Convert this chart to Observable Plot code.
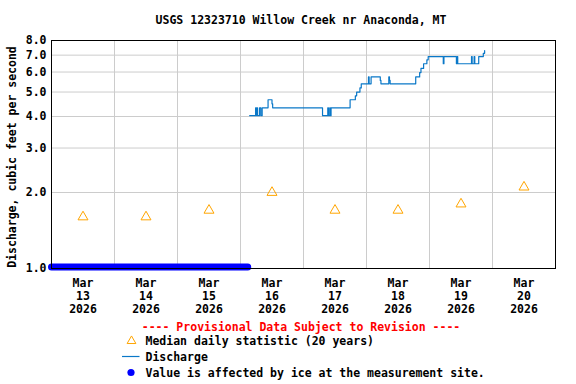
<!DOCTYPE html>
<html>
<head>
<meta charset="utf-8">
<script src="https://cdn.jsdelivr.net/npm/d3@7"></script>
<script src="https://cdn.jsdelivr.net/npm/@observablehq/plot@0.6"></script>
<style>
  html, body { margin: 0; padding: 0; background: white; }
  #chart { width: 576px; height: 384px; }
</style>
</head>
<body>
<div id="chart"></div>
<script>
// ---- data ----
const titleText = "USGS 12323710 Willow Creek nr Anaconda, MT";
const yLabel = "Discharge, cubic feet per second";
const yTicks = [1, 2, 3, 4, 5, 6, 7, 8];
const dayNoons = ["2026-03-13T12:00Z", "2026-03-14T12:00Z", "2026-03-15T12:00Z", "2026-03-16T12:00Z",
                  "2026-03-17T12:00Z", "2026-03-18T12:00Z", "2026-03-19T12:00Z", "2026-03-20T12:00Z"];
const dayLabels = ["Mar\n13\n2026", "Mar\n14\n2026", "Mar\n15\n2026", "Mar\n16\n2026",
                   "Mar\n17\n2026", "Mar\n18\n2026", "Mar\n19\n2026", "Mar\n20\n2026"];
const dayBoundaries = ["2026-03-14T00:00Z", "2026-03-15T00:00Z", "2026-03-16T00:00Z", "2026-03-17T00:00Z",
                       "2026-03-18T00:00Z", "2026-03-19T00:00Z", "2026-03-20T00:00Z"];
const xDomain = ["2026-03-13T00:00Z", "2026-03-21T00:00Z"];

const medianValues = [1.6, 1.6, 1.7, 2.0, 1.7, 1.7, 1.8, 2.1];

const dischargeTimes = [
  "2026-03-16T03:30Z", "2026-03-16T05:45Z", "2026-03-16T06:00Z", "2026-03-16T06:15Z", "2026-03-16T06:30Z",
  "2026-03-16T07:15Z", "2026-03-16T07:45Z", "2026-03-16T08:15Z", "2026-03-16T10:30Z", "2026-03-16T12:00Z",
  "2026-03-16T12:15Z",
  "2026-03-17T07:15Z", "2026-03-17T09:15Z", "2026-03-17T09:30Z", "2026-03-17T10:00Z", "2026-03-17T10:15Z",
  "2026-03-17T10:30Z", "2026-03-17T17:45Z", "2026-03-17T19:45Z", "2026-03-17T20:15Z", "2026-03-17T21:30Z",
  "2026-03-17T22:00Z",
  "2026-03-18T00:45Z", "2026-03-18T01:00Z", "2026-03-18T01:45Z", "2026-03-18T05:15Z", "2026-03-18T05:30Z",
  "2026-03-18T08:30Z", "2026-03-18T08:45Z", "2026-03-18T09:00Z", "2026-03-18T18:45Z", "2026-03-18T20:15Z",
  "2026-03-18T20:45Z", "2026-03-18T21:45Z", "2026-03-18T23:00Z", "2026-03-18T23:30Z",
  "2026-03-19T05:15Z", "2026-03-19T05:30Z", "2026-03-19T10:15Z", "2026-03-19T10:30Z", "2026-03-19T10:45Z",
  "2026-03-19T16:00Z", "2026-03-19T16:15Z", "2026-03-19T17:00Z", "2026-03-19T17:15Z", "2026-03-19T18:45Z",
  "2026-03-19T20:30Z", "2026-03-19T21:00Z"
];
const dischargeValues = [
  4.03, 4.33, 4.03, 4.33, 4.03,
  4.33, 4.03, 4.33, 4.66, 4.49,
  4.33,
  4.03, 4.33, 4.03, 4.33, 4.03,
  4.33, 4.66, 4.83, 5.00, 5.19,
  5.39,
  5.74, 5.39, 5.74, 5.56, 5.39,
  5.74, 5.56, 5.39, 5.74, 5.97,
  6.20, 6.47, 6.71, 6.91,
  6.47, 6.91, 6.47, 6.91, 6.47,
  6.91, 6.47, 6.91, 6.47, 6.91,
  7.12, 7.30
];

const iceTimes = ["2026-03-13T00:00Z", "2026-03-16T02:45Z"];
const iceValues = [1.0, 1.0];

const provisionalText = "---- Provisional Data Subject to Revision ----";
const legendLabels = ["Median daily statistic (20 years)", "Discharge", "Value is affected by ice at the measurement site."];

// ---- styles ----
const FONT = "DejaVu Sans Mono";
const medianColor = "#ffa500";
const dischargeColor = "#0a78c8";
const iceColor = "#0000ff";
const gridColor = "#cccccc";

// ---- build tables ----
const parse = s => new Date(s);
const median = dayNoons.map((d, i) => ({t: parse(d), v: medianValues[i]}));
const discharge = dischargeTimes.map((d, i) => ({t: parse(d), v: dischargeValues[i]}));
const ice = iceTimes.map((d, i) => ({t: parse(d), v: iceValues[i]}));
const labelByTime = new Map(dayNoons.map((d, i) => [+parse(d), dayLabels[i]]));

const chart = Plot.plot({
  width: 576,
  height: 384,
  marginLeft: 51,
  marginRight: 21,
  marginTop: 40,
  marginBottom: 116,
  style: {fontFamily: FONT, fontSize: "11.5px", fontWeight: "bold", background: "white", color: "black"},
  x: {type: "utc", domain: xDomain.map(parse)},
  y: {type: "log", domain: [1, 8]},
  marks: [
    Plot.gridX(dayBoundaries.map(parse), {stroke: gridColor, strokeOpacity: 1, strokeWidth: 1}),
    Plot.gridY(yTicks.slice(1, -1), {stroke: gridColor, strokeOpacity: 1, strokeWidth: 1}),
    Plot.axisY(yTicks, {tickSize: 0, tickPadding: 5, tickFormat: d => d.toFixed(1), label: null}),
    Plot.axisX(dayNoons.map(parse), {tickSize: 0, tickPadding: 10, tickFormat: d => labelByTime.get(+d), label: null, lineHeight: 1.1}),
    Plot.line(discharge, {x: "t", y: "v", curve: "step-after", stroke: dischargeColor, strokeWidth: 1.2}),
    Plot.dot(median, {x: "t", y: "v", symbol: "triangle", r: 3.7, stroke: medianColor, fill: "none", strokeWidth: 1}),
    Plot.line(ice, {x: "t", y: "v", stroke: iceColor, strokeWidth: 7, strokeLinecap: "round", dy: -1.5}),
    Plot.frame({stroke: "black", strokeWidth: 1})
  ]
});

document.getElementById("chart").appendChild(chart);

// ---- title, y label, legend drawn into the same SVG ----
const svg = d3.select(chart);
const txt = (x, y, s, opts = {}) => svg.append("text")
  .attr("x", x).attr("y", y)
  .attr("font-family", FONT).attr("font-size", "11.5px").attr("font-weight", "bold")
  .attr("fill", opts.fill || "black")
  .attr("text-anchor", opts.anchor || "start")
  .text(s);

txt(301, 23.5, titleText, {anchor: "middle"});

svg.append("text")
  .attr("transform", "translate(16,157) rotate(-90)")
  .attr("font-family", FONT).attr("font-size", "11.5px").attr("font-weight", "bold")
  .attr("text-anchor", "middle").attr("fill", "black")
  .text(yLabel);

txt(301, 331, provisionalText, {anchor: "middle", fill: "#ff0000"});

// legend row 1: median triangle
svg.append("path")
  .attr("d", d3.symbol(d3.symbolTriangle2, 55)())
  .attr("transform", "translate(131.5,341)")
  .attr("fill", "none").attr("stroke", medianColor).attr("stroke-width", 1);
txt(145.5, 345, legendLabels[0]);

// legend row 2: discharge line
svg.append("line")
  .attr("x1", 122).attr("x2", 139.5).attr("y1", 356.5).attr("y2", 356.5)
  .attr("stroke", dischargeColor).attr("stroke-width", 1.2);
txt(145.5, 361, legendLabels[1]);

// legend row 3: ice dot
svg.append("circle")
  .attr("cx", 131).attr("cy", 372.5).attr("r", 3.6)
  .attr("fill", iceColor);
txt(145.5, 377, legendLabels[2]);
</script>
</body>
</html>
